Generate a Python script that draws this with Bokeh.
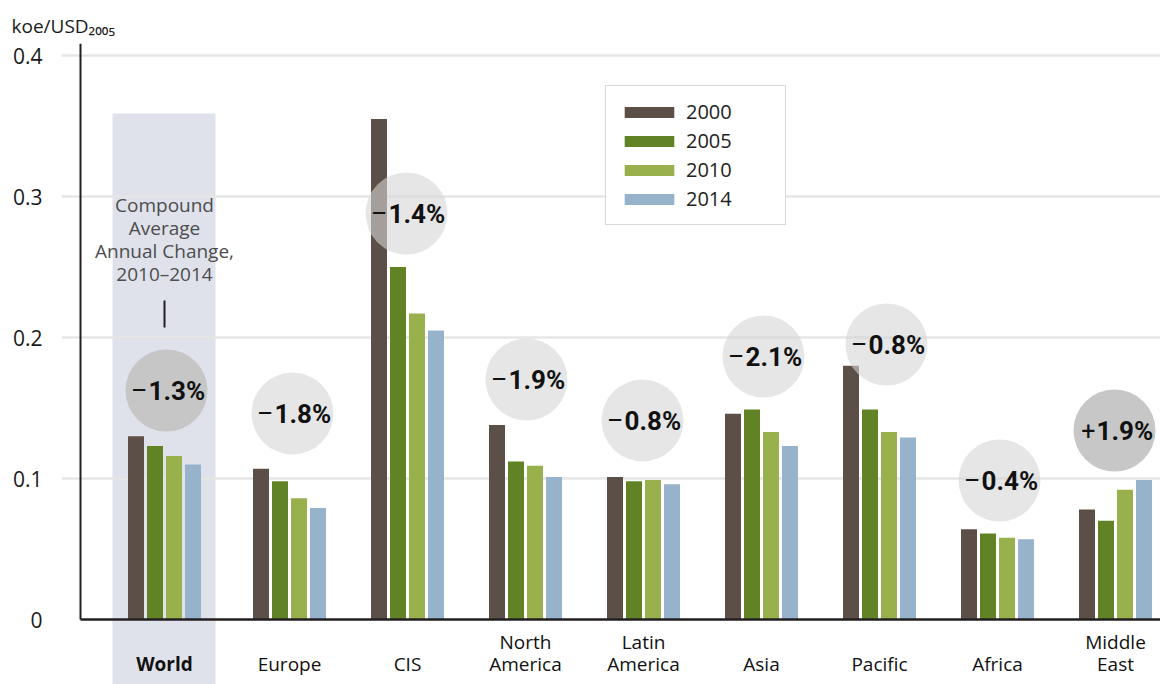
from bokeh.plotting import figure
from bokeh.models import (ColumnDataSource, Range1d, FixedTicker, PrintfTickFormatter,
                          Legend, LegendItem, Title)
from bokeh.transform import dodge
from bokeh.core.properties import value
from bokeh.embed import file_html
from bokeh.resources import INLINE

# ---------------- data ----------------
categories = ["World", "Europe", "CIS", "North America", "Latin America",
              "Asia", "Pacific", "Africa", "Middle East"]
years = ["2000", "2005", "2010", "2014"]
v2000 = [0.130, 0.107, 0.355, 0.138, 0.101, 0.146, 0.180, 0.064, 0.078]
v2005 = [0.123, 0.098, 0.250, 0.112, 0.098, 0.149, 0.149, 0.061, 0.070]
v2010 = [0.116, 0.086, 0.217, 0.109, 0.099, 0.133, 0.133, 0.058, 0.092]
v2014 = [0.110, 0.079, 0.205, 0.101, 0.096, 0.123, 0.129, 0.057, 0.099]
change_2010_2014 = [-1.3, -1.8, -1.4, -1.9, -0.8, -2.1, -0.8, -0.4, 1.9]
y_ticks = [0, 0.1, 0.2, 0.3, 0.4]
unit_label = "koe/USD\u2082\u2080\u2080\u2085"
note_lines = ["Compound", "Average", "Annual Change,", "2010\u20132014"]

# ---------------- layout / style ----------------
FONT = "Open Sans"
BFONT = "Roboto"
colors = ["#5c4f47", "#618325", "#98b14c", "#97b3cc"]
LEFT, TOP = 61, 43                       # frame origin in canvas px
FW, FH = 1160 - LEFT, 684 - TOP          # frame size
PPX, PPY = 118.0, 1410.0                 # px per data unit
x_start = 1 - (289 - LEFT) / PPX
x_end = x_start + FW / PPX
y_start = -(TOP + FH - 619) / PPY
y_end = y_start + FH / PPY


def dx(px):
    return x_start + (px - LEFT) / PPX


def dy(py):
    return y_start + (TOP + FH - py) / PPY


slots = list(range(len(categories)))
slots[0] = dx(164)                       # World group sits a bit left

p = figure(frame_width=FW, frame_height=FH, output_backend="svg", toolbar_location=None,
           x_range=Range1d(x_start, x_end), y_range=Range1d(y_start, y_end),
           min_border_left=LEFT, min_border_top=TOP, min_border_right=0,
           min_border_bottom=0, outline_line_color=None, background_fill_color="white",
           border_fill_color="white")
p.xaxis.visible = False
p.xgrid.visible = False

p.title = Title(text=unit_label, align="left", offset=11 - LEFT, standoff=10,
                vertical_align="bottom", text_font=FONT, text_font_size="19px",
                text_font_style="normal", text_color="#1a1a1a")

# highlight band for World
band = p.quad(left=[slots[0] - 52 / PPX], right=[slots[0] + 51 / PPX],
              bottom=[y_start], top=[dy(113)], fill_color="#dfe2ea", line_color=None)
band.level = "image"

p.ygrid.ticker = FixedTicker(ticks=[t for t in y_ticks if t > 0])
p.ygrid.grid_line_color = "#e6e6e6"
p.ygrid.grid_line_width = 2.5

yax = p.yaxis[0]
yax.ticker = FixedTicker(ticks=y_ticks)
yax.formatter = PrintfTickFormatter(format="%.1f")
yax.major_label_overrides = {0: "0"}
yax.axis_line_color = None
yax.major_tick_line_color = None
yax.minor_tick_line_color = None
yax.major_tick_out = 0
yax.major_tick_in = 0
yax.minor_tick_out = 0
yax.major_label_standoff = 19
yax.major_label_text_font = FONT
yax.major_label_text_font_size = "21px"
yax.major_label_text_color = "#1a1a1a"

src = ColumnDataSource(dict(x=slots, y2000=v2000, y2005=v2005, y2010=v2010, y2014=v2014))
offsets = [-28.5 / PPX, -9.5 / PPX, 9.5 / PPX, 28.5 / PPX]
renderers = []
for yr, col, off in zip(years, colors, offsets):
    r = p.vbar(x=dodge("x", off, range=p.x_range), top="y" + yr, width=16 / PPX,
               source=src, fill_color=col, line_color=None)
    renderers.append(r)

# axis lines
p.segment(x0=[dx(80)], y0=[0], x1=[dx(80)], y1=[y_end], line_color="#231f20", line_width=2)
p.segment(x0=[dx(80)], y0=[0], x1=[x_end], y1=[0], line_color="#231f20", line_width=2.5)

# bubbles
bubble_py = [390, 413, 213, 379, 420, 356, 344, 480, 430]
bubble_dpx = [2, 3, -1, 1, -1, 2, 7, 2, -1]
bx = [s + d / PPX for s, d in zip(slots, bubble_dpx)]
by = [dy(v) for v in bubble_py]
dark = [i == 0 or c > 0 for i, c in enumerate(change_2010_2014)]
bsrc = ColumnDataSource(dict(
    x=bx, y=by,
    fill=["#c4c4c4" if d else "#d6d6d6" for d in dark],
    alpha=[0.95 if d else 0.6 for d in dark],
    sign=["+" if c > 0 else "\u2013" for c in change_2010_2014],
    num=[f"{abs(c):.1f}%" for c in change_2010_2014],
))
p.scatter(x="x", y="y", size=82, marker="circle", fill_color="fill", fill_alpha="alpha",
          line_color=None, source=bsrc)
p.text(x="x", y="y", text="sign", source=bsrc, text_align="right", text_baseline="middle",
       x_offset=-19, text_font=value(BFONT), text_font_size="25px", text_color="#111111")
p.text(x="x", y="y", text="num", source=bsrc, text_align="left", text_baseline="middle",
       x_offset=-18, text_font=value(BFONT), text_font_size="26px", text_font_style="bold",
       text_color="#111111")

# note text
p.text(x=[slots[0]] * len(note_lines), y=[dy(204 + 23 * i) for i in range(len(note_lines))],
       text=note_lines, text_align="center", text_baseline="middle", text_font=value(FONT),
       text_font_size="19px", text_color="#4d4d4d")
p.segment(x0=[slots[0]], y0=[dy(300)], x1=[slots[0]], y1=[dy(327)], line_color="#231f20",
          line_width=2)

# category labels
line1 = [c.split(" ")[0] if " " in c else "" for c in categories]
line2 = [c.split(" ")[1] if " " in c else c for c in categories]
lsrc = ColumnDataSource(dict(x=slots, l1=line1, l2=line2,
                             style=["bold" if c == "World" else "normal" for c in categories]))
p.text(x="x", y=dy(641), text="l1", source=lsrc, text_align="center", text_baseline="middle",
       text_font=value(FONT), text_font_size="19px", text_font_style="style", text_color="#111111")
p.text(x="x", y=dy(663), text="l2", source=lsrc, text_align="center", text_baseline="middle",
       text_font=value(FONT), text_font_size="19px", text_font_style="style", text_color="#111111")

legend = Legend(items=[LegendItem(label=yr, renderers=[r]) for yr, r in zip(years, renderers)],
                location=(544, 459), padding=12, spacing=2, glyph_width=62, glyph_height=14,
                label_height=20, label_standoff=6, label_width=87, margin=0,
                label_text_font=FONT, label_text_font_size="20px", label_text_color="#222222",
                border_line_color="#b3b3b3", border_line_width=1.5,
                background_fill_color="white", background_fill_alpha=1.0)
p.add_layout(legend)

open("out.html", "w").write(file_html(p, INLINE))
